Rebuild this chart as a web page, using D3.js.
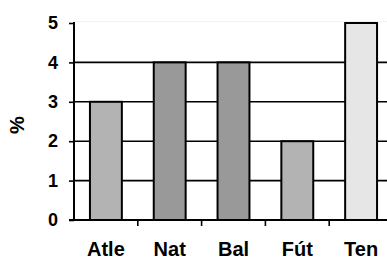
<!DOCTYPE html>
<html>
<head>
<meta charset="utf-8">
<script src="https://cdn.jsdelivr.net/npm/d3@7"></script>
<style>
  html, body { margin: 0; padding: 0; background: #fff; }
  svg { display: block; font-family: Arial, "Liberation Sans", sans-serif; }
</style>
</head>
<body>
<div id="chart"></div>
<script>
const categories = ['Atle', 'Nat', 'Bal', 'Fút', 'Ten'];
const values = [3, 4, 4, 2, 5];
const yTicks = [0, 1, 2, 3, 4, 5];
const barFills = ['#b3b3b3', '#999999', '#999999', '#b3b3b3', '#e6e6e6'];

const width = 387, height = 259;
const plotLeft = 74, plotRight = 393, plotTop = 23, plotBottom = 220;

const svg = d3.select('#chart').append('svg')
  .attr('width', width)
  .attr('height', height);

const x = d3.scaleBand().domain(categories).range([plotLeft, plotRight])
  .paddingInner(0.5).paddingOuter(0.25);
const y = d3.scaleLinear().domain([0, 5]).range([plotBottom, plotTop]);

// faint plot border at top
svg.append('line')
  .attr('x1', plotLeft).attr('x2', width)
  .attr('y1', plotTop - 1.5).attr('y2', plotTop - 1.5)
  .attr('stroke', '#f2f2f2').attr('stroke-width', 1);

// gridlines
svg.append('g').selectAll('line')
  .data(yTicks.filter(d => d > 0 && d < 5))
  .join('line')
  .attr('x1', plotLeft).attr('x2', width)
  .attr('y1', d => y(d)).attr('y2', d => y(d))
  .attr('stroke', '#000').attr('stroke-width', 1.6);

// bars
svg.append('g').selectAll('rect')
  .data(values)
  .join('rect')
  .attr('x', (d, i) => x(categories[i]))
  .attr('y', d => y(d))
  .attr('width', x.bandwidth())
  .attr('height', d => y(0) - y(d))
  .attr('fill', (d, i) => barFills[i])
  .attr('stroke', '#000')
  .attr('stroke-width', 2);

// y axis
const yAxis = svg.append('g')
  .attr('transform', `translate(${plotLeft},0)`)
  .call(d3.axisLeft(y).tickValues(yTicks).tickSize(5).tickPadding(11).tickFormat(d3.format('d')));
yAxis.select('.domain').remove();
yAxis.selectAll('.tick line').attr('stroke', '#000').attr('stroke-width', 1.6);
yAxis.selectAll('text')
  .attr('fill', '#000')
  .style('font-size', '18px')
  .style('font-weight', 'bold');

svg.append('line')
  .attr('x1', plotLeft).attr('x2', plotLeft)
  .attr('y1', plotTop - 1).attr('y2', plotBottom + 1)
  .attr('stroke', '#000').attr('stroke-width', 2);

// x axis
svg.append('line')
  .attr('x1', plotLeft - 5).attr('x2', width)
  .attr('y1', plotBottom).attr('y2', plotBottom)
  .attr('stroke', '#000').attr('stroke-width', 2);

svg.append('g').selectAll('line')
  .data(categories.slice(1))
  .join('line')
  .attr('x1', d => x(d) - x.step() * 0.25)
  .attr('x2', d => x(d) - x.step() * 0.25)
  .attr('y1', plotBottom).attr('y2', plotBottom + 6)
  .attr('stroke', '#000').attr('stroke-width', 1.6);

svg.append('g').selectAll('text')
  .data(categories)
  .join('text')
  .attr('x', d => x(d) + x.bandwidth() / 2)
  .attr('y', 256)
  .attr('text-anchor', 'middle')
  .style('font-size', '20px')
  .style('font-weight', 'bold')
  .text(d => d);

// y axis title
svg.append('text')
  .attr('transform', 'translate(24,125) rotate(-90)')
  .attr('text-anchor', 'middle')
  .style('font-size', '20px')
  .style('font-weight', 'bold')
  .text('%');
</script>
</body>
</html>
